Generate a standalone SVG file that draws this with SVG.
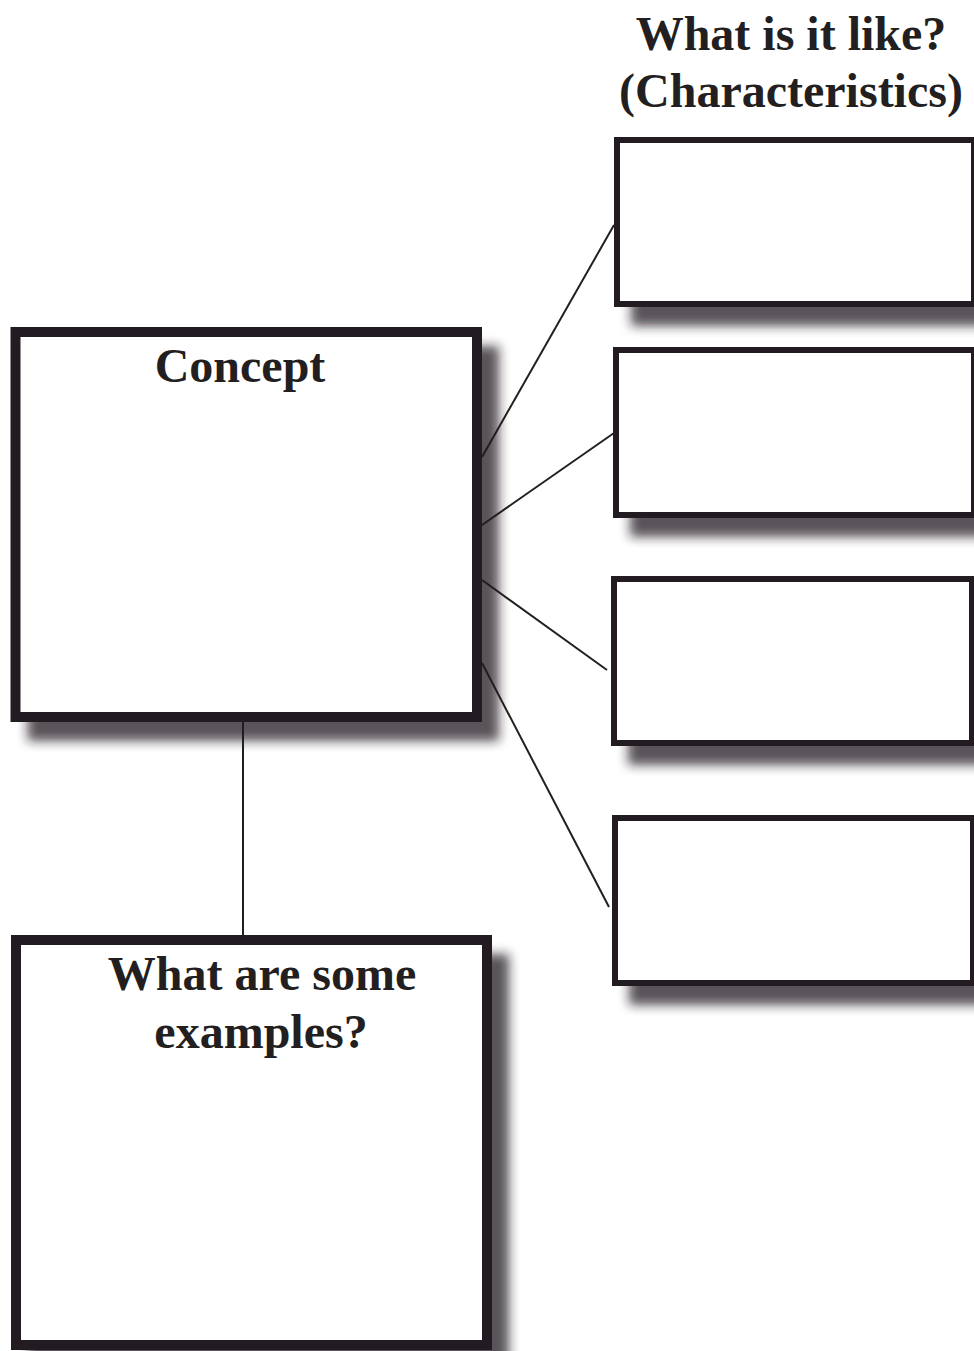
<svg xmlns="http://www.w3.org/2000/svg" width="974" height="1351" viewBox="0 0 974 1351">
<style>
.box{fill:#fff;stroke:#231f20;filter:url(#sh)}
.big{stroke-width:10}
.small{stroke-width:6}
.ln{stroke:#231f20;stroke-width:2;fill:none}
text{font-family:"Liberation Serif","Times New Roman",serif;font-weight:bold;font-size:48px;fill:#231f20;text-anchor:middle}
</style>
<defs>
<filter id="sh" x="-10%" y="-10%" width="130%" height="130%">
<feDropShadow dx="17" dy="19" stdDeviation="5.5" flood-color="#231f20" flood-opacity="0.75"/>
</filter>
</defs>
<rect width="974" height="1351" fill="#fff"/>
<g id="connectors">
<line class="ln" x1="482" y1="457" x2="614" y2="225"/>
<line class="ln" x1="482" y1="525" x2="614" y2="433"/>
<line class="ln" x1="482" y1="580" x2="607" y2="670"/>
<line class="ln" x1="482" y1="663" x2="609" y2="907"/>
<line class="ln" x1="243" y1="720" x2="243" y2="937"/>
</g>
<g id="heading">
<text x="791" y="50">What is it like?</text>
<text x="791" y="107">(Characteristics)</text>
</g>
<g id="concept">
<rect class="box big" x="15.5" y="332" width="461.5" height="385"/>
<text x="240" y="382">Concept</text>
</g>
<g id="examples">
<rect class="box big" x="16" y="940" width="471" height="405"/>
<text x="262" y="990">What are some</text>
<text x="261" y="1048">examples?</text>
</g>
<g id="char1">
<rect class="box small" x="617" y="140" width="357" height="164"/>
</g>
<g id="char2">
<rect class="box small" x="616" y="350" width="358" height="165"/>
</g>
<g id="char3">
<rect class="box small" x="614" y="579" width="358" height="164"/>
</g>
<g id="char4">
<rect class="box small" x="615" y="818" width="358" height="165"/>
</g>
</svg>
